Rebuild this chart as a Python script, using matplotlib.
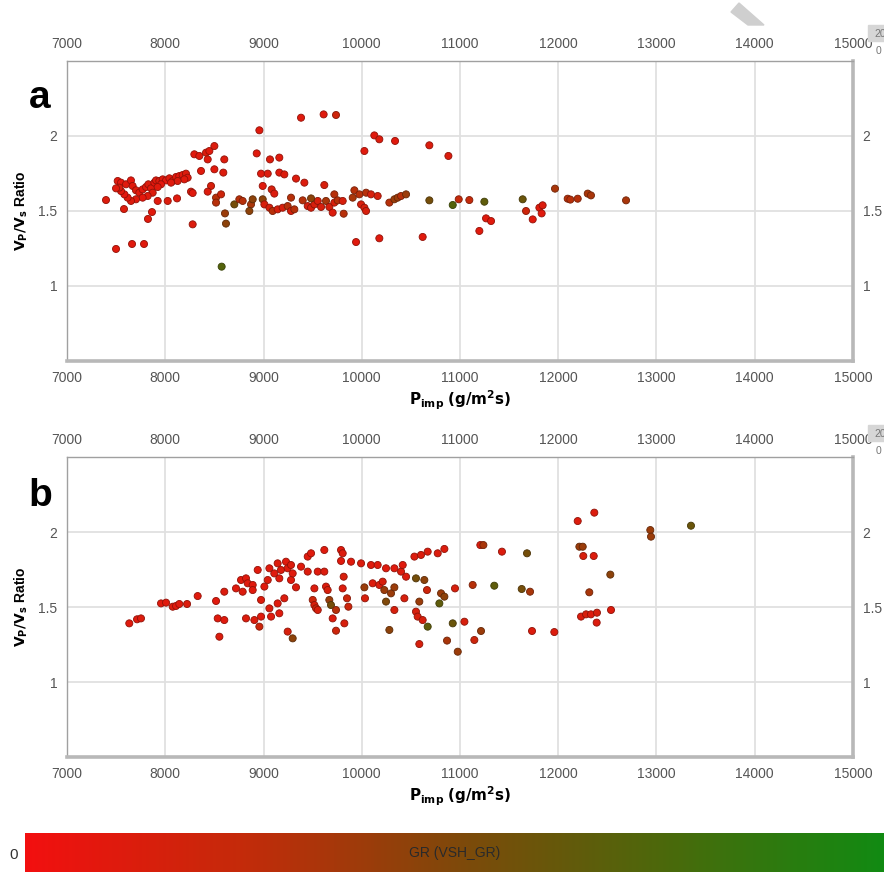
import numpy as np
import matplotlib
matplotlib.use("Agg")
import matplotlib.pyplot as plt
from matplotlib.colors import LinearSegmentedColormap, Normalize
from matplotlib.colorbar import ColorbarBase
from matplotlib.patches import Polygon, Rectangle

plt.rcParams["font.family"] = ["Liberation Sans", "DejaVu Sans"]

# ---- panel a: Pimp (g/m2s), Vp/Vs ratio, GR (VSH_GR, 0 = clean .. 1 = shaly)
A_PIMP = [
    7516, 7550, 7601, 7651, 7668, 7702, 7736, 7770, 7804, 7828, 7855, 7889, 7906, 7940,
    7974, 8008, 8042, 8076, 8110, 8143, 8177, 8211, 8228, 8194, 8126, 8059, 7957, 7923,
    7872, 7821, 7770, 7702, 7651, 7617, 7584, 7550, 7533, 7923, 8025, 8120, 8262, 8279,
    7499, 7397, 7499, 7662, 7784, 7580, 7824, 7865,
    8296, 8347, 8415, 8449, 8500, 8432, 8601, 8364, 8500, 8591, 8466, 8432, 8517, 8568,
    8517, 8608, 8618, 8279, 8574, 8703, 8754, 8788, 8873, 8890, 8856, 8958, 8931, 9066,
    9161, 8975, 9043, 9161, 9212, 8992, 9083, 9110, 8992, 9009, 9060, 9093, 9144, 9195,
    9246, 9280, 9314, 9280, 9331, 9416, 9399, 9450, 9484, 9518, 9552, 9586, 9484, 9382,
    9612, 9738, 9619, 9636, 9670, 9721, 9721, 9704, 9755, 9806, 9816, 9908, 9925, 9976,
    9993, 10027, 10044, 10044, 10094, 10162, 10027, 10128, 10179, 10339, 10688, 10882,
    9942, 10179, 10620, 10281, 10332, 10366, 10400, 10451, 10688, 10926, 10987, 11095,
    11197, 11248, 11265, 11316, 11638, 11672, 11740, 11808, 11841, 11831, 11967, 12096,
    12123, 12198, 12300, 12333, 12690,
]
A_VPVS = [
    1.700, 1.689, 1.678, 1.704, 1.667, 1.638, 1.622, 1.644, 1.660, 1.678, 1.651, 1.689, 1.704, 1.700,
    1.711, 1.704, 1.718, 1.700, 1.727, 1.733, 1.740, 1.749, 1.722, 1.711, 1.700, 1.689, 1.678, 1.660,
    1.622, 1.600, 1.589, 1.578, 1.567, 1.589, 1.611, 1.633, 1.656, 1.567, 1.567, 1.584, 1.629, 1.620,
    1.651, 1.573, 1.247, 1.280, 1.280, 1.513, 1.447, 1.493,
    1.878, 1.867, 1.889, 1.900, 1.933, 1.844, 1.844, 1.767, 1.778, 1.756, 1.667, 1.629, 1.589, 1.611,
    1.556, 1.484, 1.416, 1.411, 1.129, 1.544, 1.578, 1.567, 1.544, 1.578, 1.500, 2.038, 1.884, 1.844,
    1.856, 1.749, 1.749, 1.756, 1.744, 1.667, 1.644, 1.616, 1.578, 1.544, 1.522, 1.500, 1.511, 1.522,
    1.533, 1.500, 1.511, 1.589, 1.716, 1.689, 1.571, 1.533, 1.522, 1.544, 1.567, 1.527, 1.584, 2.122,
    2.144, 2.140, 1.673, 1.567, 1.527, 1.611, 1.556, 1.489, 1.571, 1.567, 1.482, 1.589, 1.638, 1.611,
    1.544, 1.522, 1.500, 1.622, 1.611, 1.600, 1.900, 2.004, 1.978, 1.967, 1.938, 1.867,
    1.293, 1.318, 1.327, 1.556, 1.578, 1.589, 1.600, 1.611, 1.571, 1.540, 1.578, 1.573,
    1.367, 1.562, 1.451, 1.433, 1.578, 1.500, 1.444, 1.522, 1.538, 1.484, 1.649, 1.582,
    1.576, 1.582, 1.616, 1.604, 1.571,
]
A_GR = [
    0.10, 0.08, 0.10, 0.08, 0.10, 0.12, 0.10, 0.08, 0.10, 0.12, 0.10, 0.08, 0.10, 0.12,
    0.10, 0.08, 0.10, 0.12, 0.10, 0.08, 0.10, 0.12, 0.10, 0.10, 0.12, 0.10, 0.08, 0.10,
    0.12, 0.10, 0.08, 0.10, 0.12, 0.10, 0.08, 0.10, 0.12, 0.10, 0.12, 0.10, 0.12, 0.10,
    0.10, 0.12, 0.10, 0.10, 0.10, 0.12, 0.10, 0.10,
    0.10, 0.10, 0.12, 0.10, 0.12, 0.10, 0.12, 0.10, 0.10, 0.12, 0.15, 0.12, 0.30, 0.20,
    0.30, 0.40, 0.45, 0.12, 0.70, 0.55, 0.30, 0.30, 0.35, 0.45, 0.45, 0.10, 0.10, 0.12,
    0.10, 0.10, 0.12, 0.10, 0.12, 0.10, 0.15, 0.12, 0.45, 0.15, 0.15, 0.30, 0.15, 0.15,
    0.30, 0.15, 0.30, 0.30, 0.12, 0.12, 0.30, 0.15, 0.15, 0.15, 0.15, 0.15, 0.45, 0.10,
    0.10, 0.20, 0.15, 0.35, 0.15, 0.30, 0.15, 0.12, 0.30, 0.15, 0.30, 0.35, 0.30, 0.30,
    0.15, 0.15, 0.15, 0.30, 0.15, 0.15, 0.10, 0.10, 0.12, 0.10, 0.12, 0.12,
    0.10, 0.10, 0.10, 0.30, 0.40, 0.40, 0.30, 0.40, 0.55, 0.70, 0.25, 0.25,
    0.10, 0.65, 0.10, 0.10, 0.60, 0.20, 0.10, 0.10, 0.12, 0.10, 0.35, 0.30,
    0.30, 0.30, 0.35, 0.35, 0.35,
]

# ---- panel b
B_PIMP = [
    7634, 7713, 7753, 7957, 8008, 8076, 8110, 8143, 8222, 8330, 8517, 8551, 8534, 8601,
    8601, 8720, 8771, 8788, 8822, 8839, 8822, 8890, 8890, 8907, 8941, 8958, 8975, 8975,
    9009, 9043, 9060, 9060, 9077, 9110, 9144, 9144, 9161, 9178, 9161, 9212, 9229, 9246,
    9280, 9280, 9297, 9246, 9297, 9331, 9382, 9450, 9450, 9484, 9501, 9518, 9535, 9552,
    9518, 9552, 9619, 9619, 9636, 9653, 9670, 9687, 9704, 9738, 9738, 9789, 9806, 9789,
    9816, 9806, 9823, 9850, 9864, 9891, 9993, 10027, 10033, 10094, 10111, 10162, 10179,
    10213, 10230, 10247, 10247, 10281, 10298, 10332, 10332, 10332, 10400, 10417, 10434,
    10451, 10536, 10552, 10552, 10569, 10586, 10603, 10620, 10637, 10671, 10671, 10586,
    10664, 10773, 10790, 10807, 10841, 10841, 10868, 10926, 10949, 10977, 11045, 11129,
    11146, 11207, 11238, 11427, 11682, 12198, 12367, 12937, 12944, 13351, 12215, 12249,
    12255, 12361, 12530, 12316, 12537, 12232, 12283, 12333, 12394, 12391, 11349, 11628,
    11713, 11214, 11733, 11960,
]
B_VPVS = [
    1.391, 1.418, 1.424, 1.524, 1.529, 1.502, 1.507, 1.520, 1.520, 1.573, 1.540, 1.302, 1.424, 1.413,
    1.602, 1.624, 1.680, 1.602, 1.691, 1.658, 1.424, 1.647, 1.613, 1.413, 1.747, 1.369, 1.547, 1.436,
    1.636, 1.680, 1.758, 1.491, 1.436, 1.724, 1.791, 1.524, 1.691, 1.747, 1.458, 1.558, 1.802, 1.758,
    1.780, 1.680, 1.724, 1.336, 1.291, 1.631, 1.769, 1.736, 1.836, 1.858, 1.547, 1.513, 1.491, 1.480,
    1.624, 1.736, 1.736, 1.880, 1.636, 1.613, 1.547, 1.513, 1.424, 1.480, 1.342, 1.880, 1.858, 1.807,
    1.702, 1.624, 1.391, 1.558, 1.502, 1.802, 1.791, 1.631, 1.558, 1.780, 1.658, 1.780, 1.647,
    1.669, 1.613, 1.758, 1.536, 1.347, 1.591, 1.631, 1.758, 1.480, 1.736, 1.780, 1.558,
    1.702, 1.836, 1.691, 1.469, 1.436, 1.536, 1.847, 1.413, 1.680, 1.369, 1.869, 1.253,
    1.613, 1.858, 1.524, 1.591, 1.569, 1.887, 1.276, 1.391, 1.624, 1.202, 1.402, 1.647,
    1.280, 1.913, 1.913, 1.869, 1.858, 2.073, 2.129, 2.013, 1.969, 2.042, 1.902, 1.902,
    1.840, 1.840, 1.716, 1.598, 1.480, 1.436, 1.451, 1.451, 1.462, 1.396, 1.642, 1.620,
    1.602, 1.340, 1.340, 1.333,
]
B_GR = [
    0.10, 0.10, 0.12, 0.10, 0.10, 0.12, 0.10, 0.10, 0.12, 0.10, 0.10, 0.12, 0.10, 0.10,
    0.12, 0.10, 0.10, 0.12, 0.10, 0.10, 0.12, 0.10, 0.10, 0.12, 0.10, 0.20, 0.12, 0.10,
    0.10, 0.12, 0.10, 0.12, 0.10, 0.10, 0.12, 0.10, 0.10, 0.12, 0.10, 0.12, 0.10, 0.10,
    0.12, 0.10, 0.10, 0.15, 0.45, 0.12, 0.10, 0.12, 0.10, 0.10, 0.20, 0.15, 0.20, 0.15,
    0.12, 0.10, 0.12, 0.10, 0.12, 0.15, 0.40, 0.55, 0.12, 0.30, 0.20, 0.10, 0.12, 0.10,
    0.15, 0.12, 0.15, 0.20, 0.20, 0.10, 0.12, 0.40, 0.15, 0.10, 0.12, 0.10, 0.12,
    0.15, 0.40, 0.10, 0.50, 0.45, 0.40, 0.40, 0.10, 0.15, 0.12, 0.10, 0.15,
    0.12, 0.12, 0.55, 0.15, 0.15, 0.40, 0.12, 0.15, 0.45, 0.65, 0.12, 0.15,
    0.20, 0.12, 0.65, 0.40, 0.45, 0.12, 0.35, 0.60, 0.15, 0.40, 0.15, 0.30,
    0.20, 0.12, 0.35, 0.12, 0.55, 0.12, 0.12, 0.40, 0.40, 0.60, 0.40, 0.40,
    0.15, 0.12, 0.45, 0.35, 0.12, 0.12, 0.15, 0.12, 0.15, 0.12, 0.65, 0.55,
    0.35, 0.40, 0.12, 0.12,
]

X_TICKS = [7000, 8000, 9000, 10000, 11000, 12000, 13000, 14000, 15000]
Y_TICKS = [1, 1.5, 2]

W, H = 884, 872
GR_CMAP = LinearSegmentedColormap.from_list(
    "vsh_gr", ["#f20f0f", "#c42a0a", "#7f480a", "#4a690b", "#118a12"])
NORM = Normalize(0, 1)
TICK_COLOR = "#555555"


def px_rect(left, top, right, bottom):
    return [left / W, 1 - bottom / H, (right - left) / W, (bottom - top) / H]


def draw_panel(fig, rect, pimp, vpvs, gr, letter, label_y):
    ax = fig.add_axes(rect)
    ax.set_xlim(7000, 15000)
    ax.set_ylim(0.5, 2.5)
    ax.set_xticks(X_TICKS)
    ax.set_yticks(Y_TICKS)
    ax.set_yticklabels([f"{v:g}" for v in Y_TICKS])
    ax.tick_params(length=0, labelsize=10, colors=TICK_COLOR,
                   labeltop=True, labelright=True, pad=7)
    ax.grid(True, color="#e0e0e0", lw=1.3)
    ax.set_axisbelow(True)
    for side in ("left", "top"):
        ax.spines[side].set_color("#a0a0a0")
        ax.spines[side].set_linewidth(1.0)
    for side in ("right", "bottom"):
        ax.spines[side].set_color("#b8b8b8")
        ax.spines[side].set_linewidth(2.6)

    face = GR_CMAP(NORM(np.asarray(gr)))
    edge = face.copy()
    edge[:, :3] *= 0.65
    ax.scatter(pimp, vpvs, s=26, c=face, edgecolors=edge, linewidths=0.6, zorder=3)

    ax.set_xlabel(r"$\mathbf{P_{imp}}$ $\mathbf{(g/m^2s)}$", fontsize=11, labelpad=3)
    ax.set_ylabel(r"$\mathbf{V_P/V_s}$ Ratio", fontsize=10, fontweight="bold", labelpad=6)
    fig.text(40 / W, 1 - label_y / H, letter, fontsize=28, fontweight="bold",
             ha="center", va="center")
    return ax


fig = plt.figure(figsize=(W / 100, H / 100), dpi=100)

draw_panel(fig, px_rect(67, 61, 853, 361), A_PIMP, A_VPVS, A_GR, "a", 98)
draw_panel(fig, px_rect(67, 457, 853, 757), B_PIMP, B_VPVS, B_GR, "b", 496)

# small legend tabs that sit over the top-right corner of each panel
for top in (25, 425):
    fig.patches.append(Rectangle((868 / W, 1 - (top + 16) / H), 16 / W, 16 / H,
                                 transform=fig.transFigure, color="#d6d6d6", zorder=5))
    fig.text(874 / W, 1 - (top + 9) / H, "20", fontsize=7.5, color="#777777",
             ha="left", va="center", zorder=6)
    fig.text(876 / W, 1 - (top + 26) / H, "0", fontsize=7.5, color="#777777",
             ha="left", va="center", zorder=6)

# grey pointer shape above panel a
fig.patches.append(Polygon([(731 / W, 1 - 12 / H), (739 / W, 1 - 3 / H),
                            (764 / W, 1 - 25 / H), (748 / W, 1 - 25 / H)],
                           closed=True, transform=fig.transFigure, color="#cfcfcf"))

# GR colour bar along the bottom
cax = fig.add_axes(px_rect(25, 833, 884, 872))
ColorbarBase(cax, cmap=GR_CMAP, norm=NORM, orientation="horizontal")
cax.set_xticks([])
for s in cax.spines.values():
    s.set_visible(False)
cax.text(0.5, 0.5, "GR (VSH_GR)", transform=cax.transAxes, ha="center", va="center",
         fontsize=10, color="#2a2a2a")
fig.text(14 / W, 1 - 855 / H, "0", fontsize=11, color="#333333", ha="center", va="center")

fig.savefig("out.png", dpi=100, facecolor="white")
